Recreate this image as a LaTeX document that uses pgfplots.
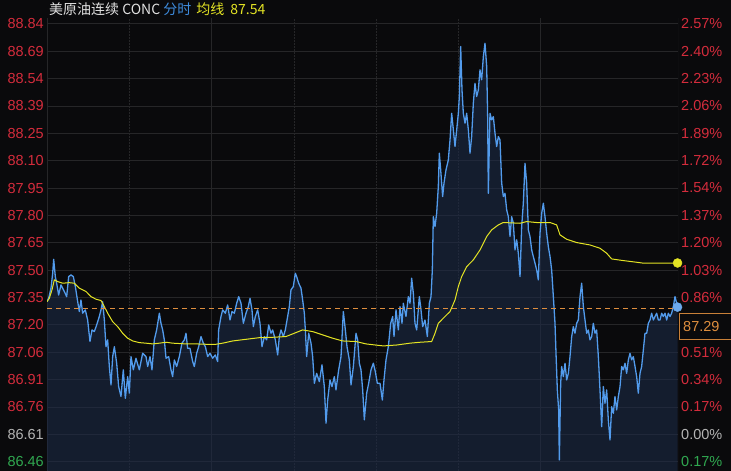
\documentclass[border=0pt]{standalone}
\usepackage{fontspec}
\setmainfont{Liberation Sans}
\newfontfamily\cjk{Noto Sans CJK SC}
\usepackage{pgfplots}
\usepackage{pgfplotstable}
\pgfplotsset{compat=1.18}

\definecolor{bg}{RGB}{10,10,12}
\definecolor{gridc}{RGB}{38,38,40}
\definecolor{pricec}{RGB}{82,155,236}
\definecolor{avgc}{RGB}{228,228,36}
\definecolor{areac}{RGB}{28,42,70}
\definecolor{upc}{RGB}{212,44,60}
\definecolor{dnc}{RGB}{48,168,80}
\definecolor{flc}{RGB}{180,180,180}
\definecolor{dashc}{RGB}{222,142,62}
\definecolor{titlec}{RGB}{225,225,225}
\definecolor{tblue}{RGB}{62,140,222}

% minutes since session open, price
\pgfplotstableread{
t p
0 87.330
3.6 87.348
8.7 87.403
12.4 87.484
14.6 87.560
18.2 87.466
21.1 87.430
25.5 87.366
30.6 87.421
37.9 87.385
43.0 87.357
47.4 87.466
52.5 87.475
57.6 87.466
62.0 87.412
67.1 87.330
70.7 87.276
74.3 87.339
78.0 87.267
83.8 87.285
88.9 87.230
94.0 87.113
98.4 87.176
103.5 87.167
108.6 87.203
114.4 87.249
118.1 87.285
121.7 87.330
125.4 87.230
129.0 87.085
132.7 87.122
136.3 86.977
140.0 86.877
143.6 87.031
147.3 87.085
152.4 86.995
156.7 86.868
161.8 86.814
166.9 86.959
171.3 86.804
176.4 86.922
180.1 86.832
183.7 87.031
188.8 86.959
194.6 87.022
201.9 86.959
209.2 87.049
216.5 87.031
220.2 86.977
225.3 87.031
229.6 86.959
234.7 87.122
239.8 87.176
245.7 87.267
249.3 87.212
253.0 87.176
256.6 87.122
260.3 87.022
266.1 87.031
271.2 86.959
274.8 86.922
278.5 87.013
283.6 86.977
289.4 87.031
295.2 87.104
300.4 87.122
304.0 87.158
307.6 87.076
312.7 87.076
318.6 87.004
322.2 86.977
327.3 87.049
331.7 87.085
336.8 87.140
341.9 87.104
346.3 87.085
351.4 87.031
356.5 87.049
362.3 87.022
368.1 87.040
373.2 87.004
375.4 87.176
380.5 87.249
384.2 87.285
390.0 87.267
395.1 87.312
400.2 87.230
404.6 87.276
409.7 87.267
414.8 87.321
419.2 87.357
424.3 87.321
429.4 87.212
435.2 87.267
440.3 87.303
444.0 87.348
448.3 87.285
451.3 87.194
455.6 87.249
460.7 87.285
465.8 87.212
470.2 87.085
475.3 87.140
480.4 87.122
484.8 87.203
489.9 87.158
493.5 87.176
499.4 87.122
504.5 87.040
508.1 87.140
511.8 87.176
516.9 87.140
521.2 87.176
526.3 87.249
530.0 87.303
533.6 87.394
538.7 87.412
543.1 87.484
546.0 87.466
550.4 87.430
555.5 87.403
559.1 87.339
562.8 87.267
565.0 87.176
567.9 87.031
572.3 87.158
577.4 87.104
581.0 87.031
584.7 86.886
589.7 86.940
595.6 86.895
601.4 86.986
606.5 86.868
610.2 86.669
613.8 86.795
618.9 86.904
623.3 86.868
628.4 86.922
632.0 86.850
637.9 86.959
643.0 87.031
648.1 87.276
652.5 87.176
656.1 87.085
661.2 87.013
664.9 86.877
670.0 86.977
675.8 87.158
679.4 87.122
683.1 86.995
686.7 86.959
690.4 86.850
694.0 86.687
699.1 86.832
703.5 86.886
708.6 86.959
713.7 86.995
718.1 86.949
722.4 86.886
728.3 86.886
733.4 86.795
737.0 86.904
741.4 87.013
746.5 87.085
751.6 87.212
756.0 87.249
758.9 87.140
763.3 87.285
768.4 87.176
772.0 87.303
776.4 87.212
779.3 87.321
785.1 87.249
790.2 87.357
793.9 87.321
797.5 87.457
801.2 87.375
804.8 87.212
808.5 87.176
814.3 87.357
817.2 87.303
821.6 87.194
826.7 87.230
831.8 87.140
836.2 87.321
839.8 87.357
842.7 87.502
844.9 87.792
848.6 87.738
852.2 87.810
855.8 87.955
858.0 88.137
861.0 88.046
865.3 87.901
868.2 87.974
872.6 88.046
877.7 88.100
881.4 88.209
885.0 88.354
888.7 88.264
892.3 88.173
896.0 88.264
899.6 88.354
901.8 88.445
904.7 88.717
907.6 88.481
910.5 88.354
914.2 88.300
917.8 88.354
921.5 88.264
925.1 88.137
928.7 88.227
932.4 88.409
936.0 88.517
939.7 88.445
943.3 88.481
947.0 88.590
950.6 88.536
954.3 88.662
957.9 88.735
961.6 88.608
963.7 88.336
965.2 87.919
968.8 88.354
972.5 88.318
976.1 88.336
979.8 88.246
983.4 88.173
987.1 88.227
990.7 88.209
994.4 87.974
998.0 87.901
1001.6 87.919
1005.3 87.829
1008.9 87.792
1012.6 87.684
1016.2 87.792
1019.9 87.756
1023.5 87.611
1027.2 87.666
1030.8 87.593
1034.5 87.466
1038.1 87.738
1041.7 87.865
1045.4 88.082
1049.0 87.974
1052.7 87.720
1056.3 87.684
1060.0 87.611
1063.6 87.575
1067.3 87.539
1070.9 87.502
1074.5 87.448
1078.2 87.702
1081.8 87.810
1085.5 87.865
1089.1 87.792
1092.8 87.702
1096.4 87.629
1100.1 87.575
1103.7 87.502
1107.4 87.357
1111.0 87.212
1113.2 87.049
1116.1 86.850
1119.0 86.741
1120.5 86.469
1123.4 86.886
1125.6 86.977
1129.2 86.922
1132.9 86.995
1136.5 86.904
1140.2 86.940
1143.8 87.031
1147.5 87.140
1151.1 87.194
1154.7 87.158
1158.4 87.212
1162.0 87.230
1165.7 87.357
1169.3 87.430
1173.0 87.303
1176.6 87.230
1180.3 87.158
1183.9 87.176
1187.5 87.122
1191.2 87.140
1194.8 87.212
1198.5 87.158
1202.1 87.176
1205.8 87.031
1209.4 86.850
1213.1 86.650
1216.7 86.868
1220.3 86.777
1224.0 86.850
1227.6 86.687
1231.3 86.578
1234.9 86.759
1238.6 86.723
1242.2 86.814
1245.9 86.741
1249.5 86.814
1253.2 86.868
1256.8 86.977
1260.4 86.959
1264.1 86.995
1267.7 86.940
1271.4 87.013
1275.0 87.049
1278.7 87.013
1282.3 87.031
1286.0 86.977
1289.6 86.922
1293.2 86.832
1296.9 86.940
1300.5 86.977
1304.2 87.067
1307.8 87.158
1311.5 87.158
1315.1 87.212
1318.8 87.230
1322.4 87.267
1326.1 87.230
1329.7 87.249
1333.3 87.267
1337.0 87.230
1340.6 87.230
1344.3 87.267
1347.9 87.249
1351.6 87.267
1355.2 87.230
1358.9 87.267
1362.5 87.249
1366.1 87.267
1369.8 87.303
1373.4 87.357
1377.1 87.321
1379.0 87.290
}\pricetab

% average price line
\pgfplotstableread{
t a
0 87.330
5.1 87.348
10.9 87.394
16.0 87.448
23.3 87.439
34.3 87.430
48.8 87.433
59.8 87.430
70.7 87.403
85.3 87.385
96.2 87.357
107.2 87.343
118.1 87.336
125.4 87.303
132.7 87.267
143.6 87.221
154.5 87.194
165.5 87.158
176.4 87.131
187.4 87.116
201.9 87.107
216.5 87.104
231.1 87.100
245.7 87.104
260.3 87.109
274.8 87.104
304.0 87.100
325.9 87.100
347.7 87.098
369.6 87.098
384.2 87.104
406.0 87.116
435.2 87.125
464.4 87.134
493.5 87.136
522.7 87.140
540.9 87.158
559.1 87.176
581.0 87.167
602.9 87.149
624.8 87.131
646.6 87.116
675.8 87.113
697.6 87.100
718.1 87.094
735.6 87.089
764.7 87.094
793.9 87.104
815.8 87.109
841.3 87.113
848.6 87.158
855.8 87.212
866.8 87.240
881.4 87.276
892.3 87.339
899.6 87.412
906.9 87.466
917.8 87.520
932.4 87.557
947.0 87.611
954.3 87.647
961.6 87.684
972.5 87.720
987.1 87.747
998.0 87.760
1034.5 87.756
1049.0 87.765
1070.9 87.760
1100.1 87.760
1114.6 87.747
1121.9 87.693
1136.5 87.669
1158.4 87.651
1187.5 87.638
1209.4 87.620
1224.0 87.593
1234.9 87.562
1260.4 87.553
1289.6 87.544
1304.2 87.539
1379.0 87.540
}\avgtab

\begin{document}
\begin{tikzpicture}[x=1pt,y=1pt]
\path[use as bounding box, fill=bg] (0,0) rectangle (731,471);

\begin{axis}[
    at={(47pt,0pt)}, anchor=south west,
    scale only axis,
    width=631pt, height=453pt,
    xmin=0, xmax=1380,
    ymin=86.409, ymax=88.872,
    axis line style={draw=none},
    xtick=\empty,
    major tick length=0pt,
    ytick={86.46,86.60875,86.7575,86.90625,87.055,87.20375,87.3525,87.50125,87.65,87.79875,87.9475,88.09625,88.245,88.39375,88.5425,88.69125,88.84},
    yticklabels={\textcolor{dnc}{86.46},\textcolor{flc}{86.61},\textcolor{upc}{86.76},\textcolor{upc}{86.91},\textcolor{upc}{87.06},\textcolor{upc}{87.20},\textcolor{upc}{87.35},\textcolor{upc}{87.50},\textcolor{upc}{87.65},\textcolor{upc}{87.80},\textcolor{upc}{87.95},\textcolor{upc}{88.10},\textcolor{upc}{88.25},\textcolor{upc}{88.39},\textcolor{upc}{88.54},\textcolor{upc}{88.69},\textcolor{upc}{88.84}},
    yticklabel style={font=\fontsize{14.5}{15}\selectfont, inner sep=0pt, xshift=-3pt},
    ymajorgrids,
    major grid style={gridc, line width=0.8pt},
  ]
  % session grid
  \draw[gridc, line width=0.8pt] (axis cs:360,86.409) -- (axis cs:360,88.872);
  \draw[gridc, line width=0.8pt] (axis cs:1080,86.409) -- (axis cs:1080,88.872);
  \draw[gridc, line width=0.8pt, dash pattern=on 1.5pt off 1.5pt] (axis cs:180,86.409) -- (axis cs:180,88.872);
  \draw[gridc, line width=0.8pt, dash pattern=on 1.5pt off 1.5pt] (axis cs:540,86.409) -- (axis cs:540,88.872);
  \draw[gridc, line width=0.8pt, dash pattern=on 1.5pt off 1.5pt] (axis cs:720,86.409) -- (axis cs:720,88.872);
  \draw[gridc, line width=0.8pt, dash pattern=on 1.5pt off 1.5pt] (axis cs:900,86.409) -- (axis cs:900,88.872);
  \draw[gridc, line width=0.8pt] (axis cs:0,86.409) -- (axis cs:0,88.872);
  \draw[gridc, line width=0.8pt] (axis cs:1380,86.409) -- (axis cs:1380,88.872);

  \addplot[draw=none, fill=areac, fill opacity=0.6] table[x=t, y=p] {\pricetab} \closedcycle;
  \addplot[pricec, line width=1.3pt, line join=round] table[x=t, y=p] {\pricetab};
  \addplot[avgc, line width=1pt] table[x=t, y=a] {\avgtab};

  \draw[dashc, line width=1pt, dash pattern=on 5pt off 4pt] (axis cs:0,87.29) -- (axis cs:1380,87.29);

  \addplot[only marks, mark=*, mark size=4.5pt, mark options={fill=avgc, draw=avgc}] coordinates {(1379,87.54)};
  \addplot[only marks, mark=*, mark size=4.5pt, mark options={fill=pricec!85!white, draw=pricec!85!white}] coordinates {(1379,87.30)};
\end{axis}

\begin{axis}[
    at={(47pt,0pt)}, anchor=south west,
    scale only axis,
    width=631pt, height=453pt,
    xmin=0, xmax=1380,
    ymin=86.409, ymax=88.872,
    axis line style={draw=none},
    xtick=\empty,
    major tick length=0pt,
    yticklabel pos=right,
    ytick={86.46,86.60875,86.7575,86.90625,87.055,87.3525,87.50125,87.65,87.79875,87.9475,88.09625,88.245,88.39375,88.5425,88.69125,88.84},
    yticklabels={\textcolor{dnc}{0.17\%},\textcolor{flc}{0.00\%},\textcolor{upc}{0.17\%},\textcolor{upc}{0.34\%},\textcolor{upc}{0.51\%},\textcolor{upc}{0.86\%},\textcolor{upc}{1.03\%},\textcolor{upc}{1.20\%},\textcolor{upc}{1.37\%},\textcolor{upc}{1.54\%},\textcolor{upc}{1.72\%},\textcolor{upc}{1.89\%},\textcolor{upc}{2.06\%},\textcolor{upc}{2.23\%},\textcolor{upc}{2.40\%},\textcolor{upc}{2.57\%}},
    yticklabel style={font=\fontsize{14.5}{15}\selectfont, inner sep=0pt, anchor=west, xshift=3pt},
  ]
\end{axis}

% current price tag
\draw[dashc!90!black, fill=bg, line width=1pt] (679,131) rectangle (740,157);
\node[anchor=west, inner sep=0pt, text=dashc, font=\fontsize{14.5}{15}\selectfont] at (683,144) {87.29};

% title
\node[anchor=base west, inner sep=0pt, font=\cjk\fontsize{14}{15}\selectfont, text=titlec] at (49,456) {美原油连续 CONC \textcolor{tblue}{分时}\hspace{5pt}\textcolor{avgc}{均线\hspace{6pt}87.54}};
\end{tikzpicture}
\end{document}
